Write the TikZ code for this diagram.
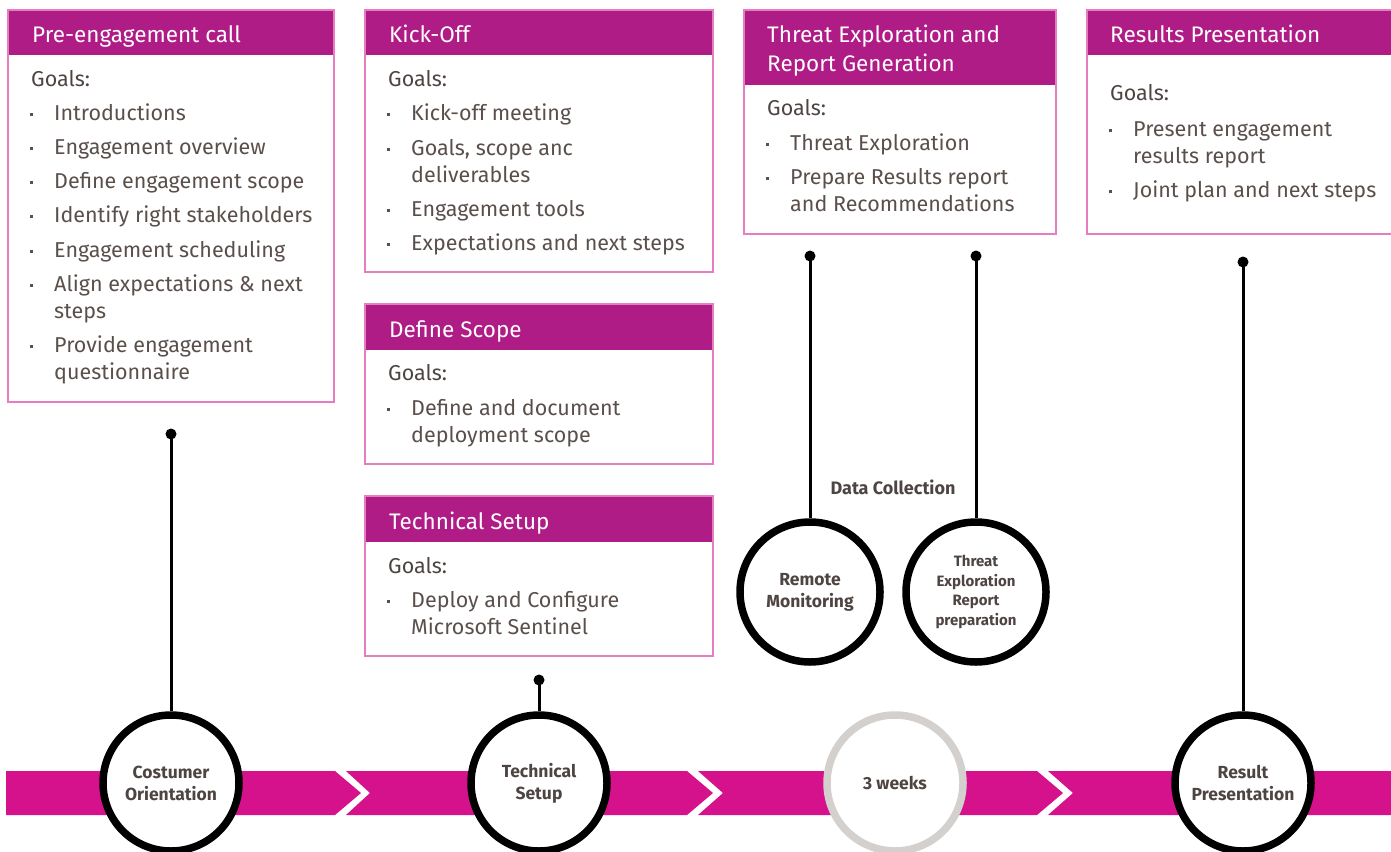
\documentclass[tikz,border=0pt]{standalone}
\usepackage{fontspec}
\setmainfont{Fira Sans}
\definecolor{hdr}{HTML}{B01C86}
\definecolor{bord}{HTML}{E57DC0}
\definecolor{band}{HTML}{D6118C}
\definecolor{txt}{HTML}{5A4F4B}
\definecolor{dtxt}{HTML}{4E4542}
\definecolor{gry}{HTML}{D4D0CD}
\usetikzlibrary{calc}
% one-line item: name, x, y(center), text
\newcommand\gitem[4]{%
  \fill[txt] ($(#2,#3)+(-24.5,-0.5)$) rectangle ++(3,3);
  \node[itemtext, anchor=base west] (#1) at (#2,#3+7) {#4};}
% two-line item: name, x, y(center of first line), first line, second line
\newcommand\gitemm[5]{%
  \fill[txt] ($(#2,#3)+(-24.5,-0.5)$) rectangle ++(3,3);
  \node[itemtext, anchor=base west] (#1) at (#2,#3+34) {#4\\#5};}
\newcommand\goals[3]{\node[goaltext, anchor=base west] (#1) at (#2,#3+7) {Goals:};}
\begin{document}
\begin{tikzpicture}[x=1pt,y=-1pt,
  itemtext/.style={font=\fontsize{21.5}{27}\selectfont, text=txt, inner sep=0pt, align=left},
  goaltext/.style={font=\fontsize{21.5}{27}\selectfont, text=dtxt, inner sep=0pt},
  title/.style={font=\fontsize{22.5}{29}\selectfont, text=white, inner sep=0pt, align=left},
  boxline/.style={draw=bord, line width=1.2pt},
  hdrfill/.style={fill=hdr},
  bandseg/.style={fill=band},
  stage/.style={circle, draw=black, line width=7.5pt, fill=white, minimum size=136pt, inner sep=0pt,
     font=\bfseries\fontsize{17.5}{22}\selectfont, text=dtxt, align=center},
  conn/.style={draw=black, line width=3pt},
  dot/.style={fill=black}]
\useasboundingbox (0,0) rectangle (1391,851);

% band
\fill[bandseg] (6,771) -- (335,771) -- (361,793) -- (335,815) -- (6,815) -- cycle;
\fill[bandseg] (346,771) -- (687,771) -- (713,793) -- (687,815) -- (346,815) -- (370,793) -- cycle;
\fill[bandseg] (698,771) -- (1037,771) -- (1063,793) -- (1037,815) -- (698,815) -- (723,793) -- cycle;
\fill[bandseg] (1048,771) -- (1400,771) -- (1400,815) -- (1048,815) -- (1073,793) -- cycle;

% boxes
\fill[hdrfill] (8,10) rectangle (334,55);
\draw[boxline] (8,10) rectangle (334,402);
\fill[hdrfill] (365,10) rectangle (713,55);
\draw[boxline] (365,10) rectangle (713,272);
\fill[hdrfill] (365,304) rectangle (713,350);
\draw[boxline] (365,304) rectangle (713,464);
\fill[hdrfill] (365,496) rectangle (713,542);
\draw[boxline] (365,496) rectangle (713,656);
\fill[hdrfill] (744,10) rectangle (1056,85);
\draw[boxline] (744,10) rectangle (1056,234);
\fill[hdrfill] (1087,10) rectangle (1400,55);
\draw[boxline] (1087,10) rectangle (1400,234);

% titles
\node[title, anchor=base west] (t1) at (32,42) {Pre-engagement call};
\node[title, anchor=base west] (t2) at (389,42) {Kick-Off};
\node[title, anchor=base west] (t3) at (389,337) {Define Scope};
\node[title, anchor=base west] (t4) at (389,529) {Technical Setup};
\node[title, anchor=base west] (t5) at (767,71) {Threat Exploration and\\Report Generation};
\node[title, anchor=base west] (t6) at (1110,42) {Results Presentation};

% box 1
\goals{g1}{31}{79}
\gitem{a1}{54}{113}{Introductions}
\gitem{a2}{54}{147}{Engagement overview}
\gitem{a3}{54}{181}{Define engagement scope}
\gitem{a4}{54}{215}{Identify right stakeholders}
\gitem{a5}{54}{250}{Engagement scheduling}
\gitemm{a6}{54}{284}{Align expectations \& next}{steps}
\gitemm{a7}{54}{345}{Provide engagement}{questionnaire}
% box 2
\goals{g2}{388}{79}
\gitem{b1}{411}{113}{Kick-off meeting}
\gitemm{b2}{411}{148}{Goals, scope anc}{deliverables}
\gitem{b3}{411}{209}{Engagement tools}
\gitem{b4}{411}{243}{Expectations and next steps}
% box 3
\goals{g3}{388}{373}
\gitemm{c1i}{411}{408}{Define and document}{deployment scope}
% box 4
\goals{g4}{388}{566}
\gitemm{d1i}{411}{600}{Deploy and Configure}{Microsoft Sentinel}
% box 5
\goals{g5}{767}{108}
\gitem{e1}{790}{143}{Threat Exploration}
\gitemm{e2}{790}{177}{Prepare Results report}{and Recommendations}
% box 6
\goals{g6}{1110}{93}
\gitemm{f1}{1133}{129}{Present engagement}{results report}
\gitem{f2}{1133}{190}{Joint plan and next steps}

% stages
\node[stage] (s1) at (171,783) {Costumer\\Orientation};
\node[stage] (s2) at (539,783) {Technical\\Setup};
\node[stage, draw=gry] (s3) at (895,783) {3 weeks};
\node[stage] (s4) at (1243,783) {Result\\Presentation};
\node[stage, minimum size=140pt] (r1) at (810,592) {Remote\\Monitoring};
\node[stage, minimum size=140pt, font=\bfseries\fontsize{15}{19.5}\selectfont] (r2) at (976,592) {Threat\\Exploration\\Report\\preparation};

\node[font=\bfseries\fontsize{18}{20}\selectfont, text=dtxt] (dc) at (893,487) {Data Collection};

% connectors
\coordinate (p1) at (171,434);
\coordinate (p2) at (539,680);
\coordinate (p3) at (810,256);
\coordinate (p4) at (976,256);
\coordinate (p5) at (1243,262);
\draw[conn] (p1) -- (s1.north);
\draw[conn] (p2) -- (s2.north);
\draw[conn] (p3) -- (r1.north);
\draw[conn] (p4) -- (r2.north);
\draw[conn] (p5) -- (s4.north);
\foreach \p in {p1,p2,p3,p4,p5} \fill[dot] (\p) circle (5.5);
\end{tikzpicture}
\end{document}
